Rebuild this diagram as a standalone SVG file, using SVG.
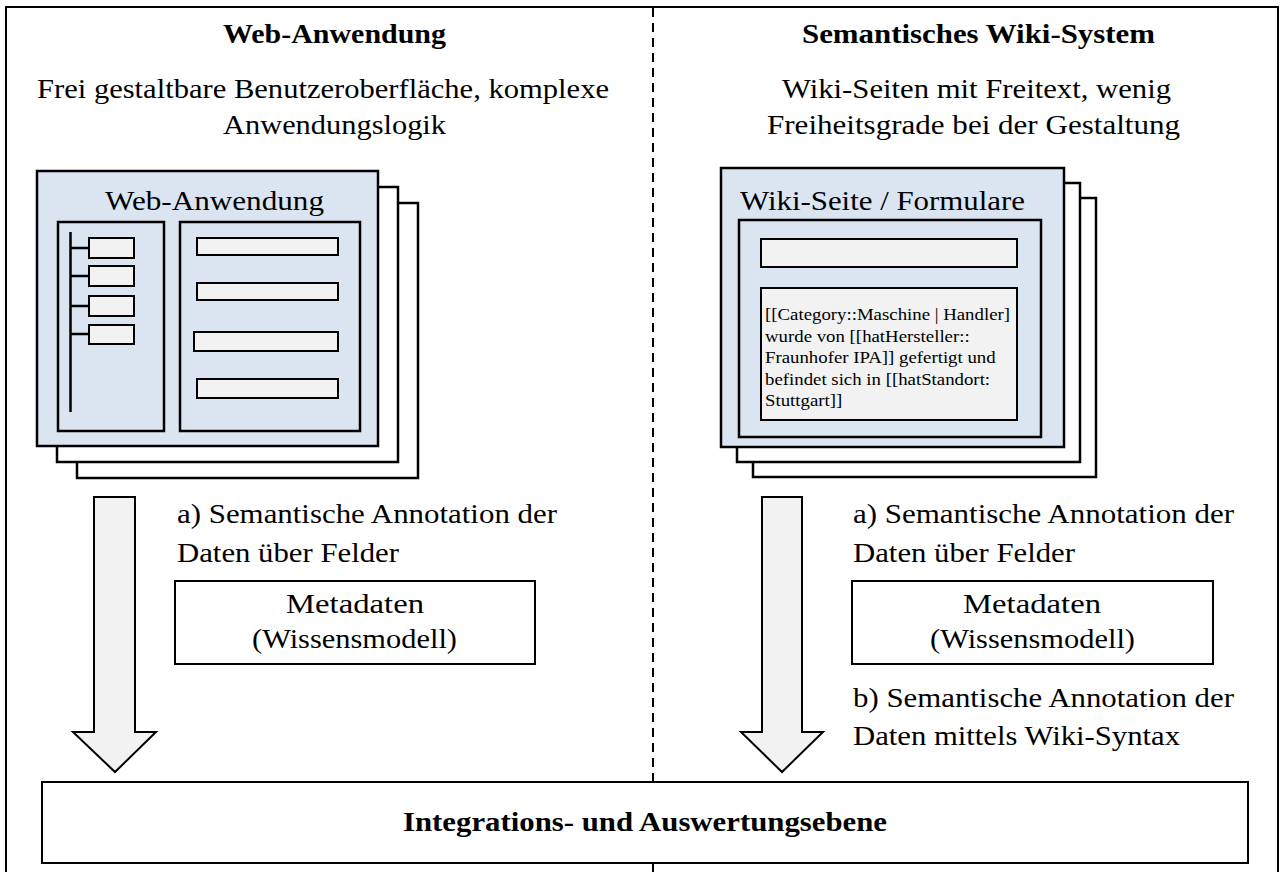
<svg xmlns="http://www.w3.org/2000/svg" width="1283" height="872" viewBox="0 0 1283 872">
  <style>
    .frame { fill: #ffffff; stroke: #000000; stroke-width: 2; }
    .box { fill: #ffffff; stroke: #000000; stroke-width: 2; }
    .page { fill: #ffffff; stroke: #000000; stroke-width: 2.5; }
    .blue { fill: #dbe5f1; stroke: #000000; stroke-width: 2.5; }
    .grey { fill: #f2f2f2; stroke: #000000; stroke-width: 2; }
    .arrow { fill: #f2f2f2; stroke: #000000; stroke-width: 2; stroke-linejoin: miter; }
    .divider { fill: none; stroke: #000000; stroke-width: 2; stroke-dasharray: 9 6; }
    .tree { fill: none; stroke: #000000; stroke-width: 2.5; }
    .t { font-family: "Liberation Serif", "Times New Roman", serif; font-size: 27px; fill: #000000; }
    .b { font-weight: bold; }
    .small { font-family: "Liberation Serif", "Times New Roman", serif; font-size: 16.5px; fill: #000000; }
  </style>

  <!-- outer frame and column divider -->
  <g id="frame">
    <rect class="frame" x="6" y="7" width="1272" height="880"/>
    <line class="divider" x1="653" y1="8" x2="653" y2="872"/>
  </g>

  <!-- column headings -->
  <g id="heading-web">
    <text class="t b" x="223" y="43" textLength="223" lengthAdjust="spacingAndGlyphs">Web-Anwendung</text>
    <text class="t" x="37" y="98" textLength="572" lengthAdjust="spacingAndGlyphs">Frei gestaltbare Benutzeroberfläche, komplexe</text>
    <text class="t" x="223" y="134" textLength="223" lengthAdjust="spacingAndGlyphs">Anwendungslogik</text>
  </g>
  <g id="heading-wiki">
    <text class="t b" x="802" y="43" textLength="353" lengthAdjust="spacingAndGlyphs">Semantisches Wiki-System</text>
    <text class="t" x="782" y="98" textLength="389" lengthAdjust="spacingAndGlyphs">Wiki-Seiten mit Freitext, wenig</text>
    <text class="t" x="767" y="134" textLength="413" lengthAdjust="spacingAndGlyphs">Freiheitsgrade bei der Gestaltung</text>
  </g>

  <!-- stacked web application screens -->
  <g id="web-app">
    <rect class="page" x="77" y="203" width="341" height="275"/>
    <rect class="page" x="57" y="187" width="341" height="275"/>
    <rect class="blue" x="37" y="171" width="341" height="275"/>
    <text class="t" x="105" y="210" textLength="219" lengthAdjust="spacingAndGlyphs">Web-Anwendung</text>
    <rect class="blue" x="58" y="222" width="106" height="209"/>
    <rect class="blue" x="180" y="222" width="180" height="209"/>
    <!-- navigation tree -->
    <path class="tree" d="M70.5 232 V412 M70.5 248 H89 M70.5 276 H89 M70.5 306 H89 M70.5 334 H89"/>
    <rect class="grey" x="89" y="238" width="45" height="20"/>
    <rect class="grey" x="89" y="266" width="45" height="20"/>
    <rect class="grey" x="89" y="296" width="45" height="20"/>
    <rect class="grey" x="89" y="325" width="45" height="19"/>
    <!-- input fields -->
    <rect class="grey" x="197" y="238" width="141" height="17"/>
    <rect class="grey" x="197" y="283" width="141" height="17"/>
    <rect class="grey" x="194" y="332" width="144" height="19"/>
    <rect class="grey" x="197" y="379" width="141" height="19"/>
  </g>

  <!-- stacked wiki pages -->
  <g id="wiki-page">
    <rect class="page" x="753" y="198" width="343" height="279"/>
    <rect class="page" x="737" y="183" width="343" height="279"/>
    <rect class="blue" x="721" y="168" width="343" height="279"/>
    <text class="t" x="740" y="210" textLength="285" lengthAdjust="spacingAndGlyphs">Wiki-Seite / Formulare</text>
    <rect class="blue" x="739" y="220" width="302" height="217"/>
    <rect class="grey" x="761" y="239" width="256" height="28"/>
    <rect class="grey" x="761" y="288" width="256" height="132"/>
    <g transform="translate(765 0) scale(1.14 1)">
      <text class="small" x="0" y="320">[[Category::Maschine | Handler]</text>
      <text class="small" x="0" y="342">wurde von [[hatHersteller::</text>
      <text class="small" x="0" y="363">Fraunhofer IPA]] gefertigt und</text>
      <text class="small" x="0" y="385">befindet sich in [[hatStandort:</text>
      <text class="small" x="0" y="406">Stuttgart]]</text>
    </g>
  </g>

  <!-- block arrows down to the integration layer -->
  <g id="connectors">
    <polygon class="arrow" points="94,497 135,497 135,732 156,732 115,772 73,732 94,732"/>
    <polygon class="arrow" points="762,497 802,497 802,732 823,732 782,772 741,732 762,732"/>
  </g>

  <!-- annotation notes and metadata, web application side -->
  <g id="web-annotation">
    <text class="t" x="177" y="523" textLength="380" lengthAdjust="spacingAndGlyphs">a) Semantische Annotation der</text>
    <text class="t" x="177" y="562" textLength="222" lengthAdjust="spacingAndGlyphs">Daten über Felder</text>
  </g>
  <g id="web-metadata">
    <rect class="box" x="175" y="581" width="360" height="83"/>
    <text class="t" x="286" y="613" textLength="138" lengthAdjust="spacingAndGlyphs">Metadaten</text>
    <text class="t" x="252" y="648" textLength="205" lengthAdjust="spacingAndGlyphs">(Wissensmodell)</text>
  </g>

  <!-- annotation notes and metadata, wiki side -->
  <g id="wiki-annotation">
    <text class="t" x="853" y="523" textLength="381" lengthAdjust="spacingAndGlyphs">a) Semantische Annotation der</text>
    <text class="t" x="853" y="562" textLength="222" lengthAdjust="spacingAndGlyphs">Daten über Felder</text>
  </g>
  <g id="wiki-metadata">
    <rect class="box" x="852" y="581" width="361" height="83"/>
    <text class="t" x="963" y="613" textLength="138" lengthAdjust="spacingAndGlyphs">Metadaten</text>
    <text class="t" x="930" y="648" textLength="205" lengthAdjust="spacingAndGlyphs">(Wissensmodell)</text>
  </g>
  <g id="wiki-syntax">
    <text class="t" x="853" y="707" textLength="381" lengthAdjust="spacingAndGlyphs">b) Semantische Annotation der</text>
    <text class="t" x="853" y="745" textLength="327" lengthAdjust="spacingAndGlyphs">Daten mittels Wiki-Syntax</text>
  </g>

  <!-- shared integration and evaluation layer -->
  <g id="integration">
    <rect class="box" x="42" y="782" width="1206" height="81"/>
    <text class="t b" x="403" y="831" textLength="484" lengthAdjust="spacingAndGlyphs">Integrations- und Auswertungsebene</text>
  </g>
</svg>
